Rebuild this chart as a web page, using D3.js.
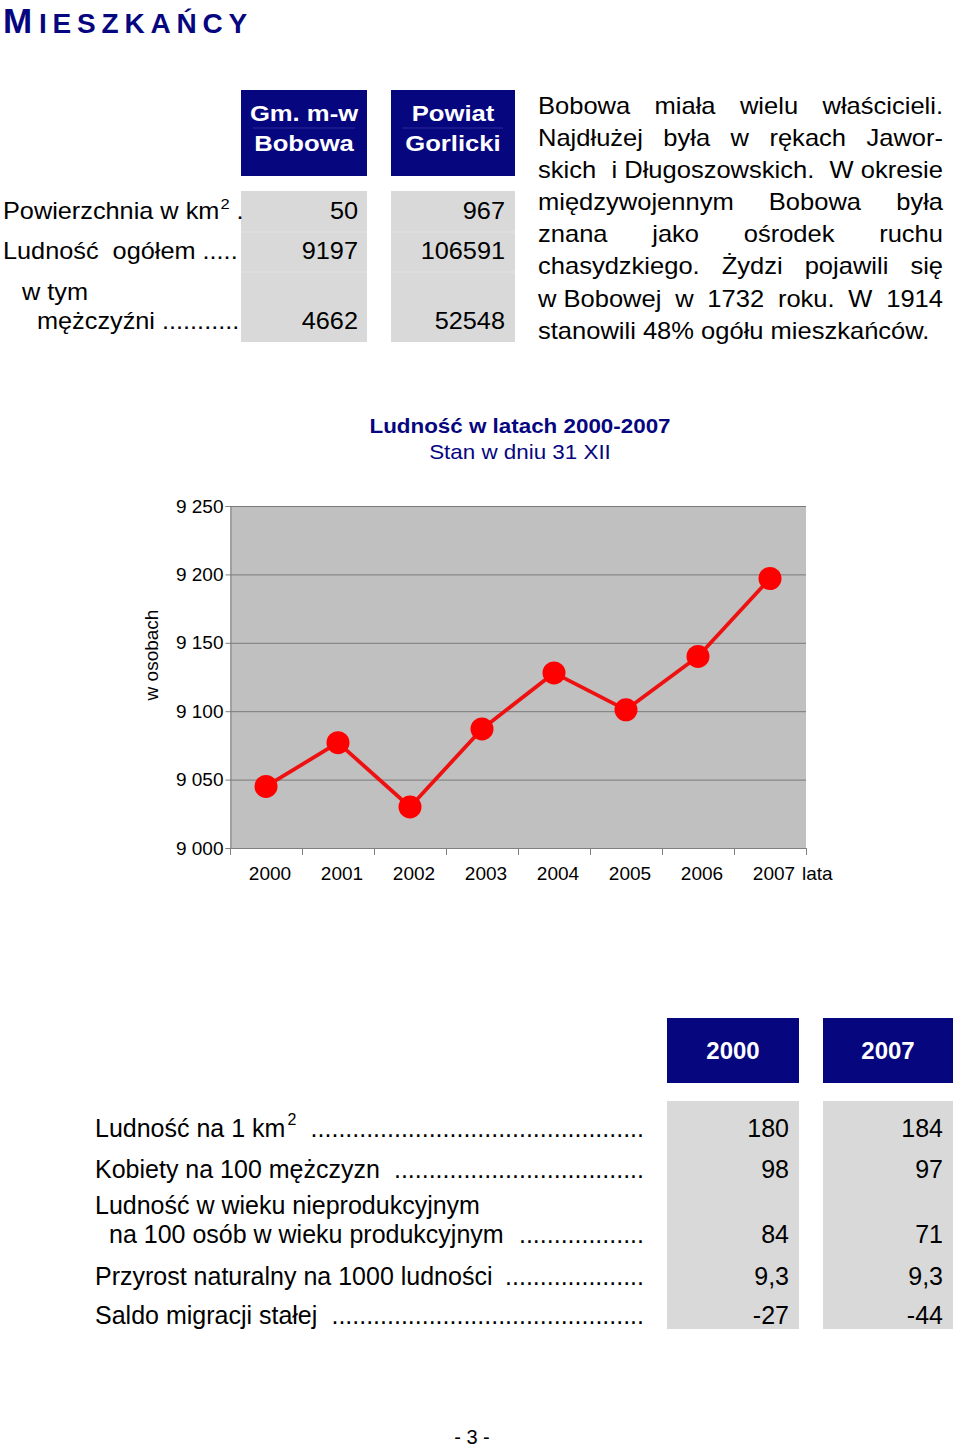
<!DOCTYPE html>
<html><head><meta charset="utf-8">
<script src="https://cdn.jsdelivr.net/npm/d3@7"></script>
<style>
body{margin:0;background:#fff}
svg{display:block}
text{font-family:"Liberation Sans",Arial,sans-serif;white-space:pre}
</style>
</head><body>
<script>
// ---------- DATA ----------
const years = ["2000","2001","2002","2003","2004","2005","2006","2007"];
const population = [9045, 9077, 9030, 9087, 9128, 9101, 9140, 9197];
const yTicks = [9000, 9050, 9100, 9150, 9200, 9250];

const topHeaders = [["Gm. m-w","Bobowa"],["Powiat","Gorlicki"]];
const topBobowa = ["50","9197","4662"];
const topPowiat = ["967","106591","52548"];

const paragraphLines = [
  ["Bobowa","miała","wielu","właścicieli."],
  ["Najdłużej","była","w","rękach","Jawor-"],
  ["skich","i Długoszowskich.","W okresie"],
  ["międzywojennym","Bobowa","była"],
  ["znana","jako","ośrodek","ruchu"],
  ["chasydzkiego.","Żydzi","pojawili","się"],
  ["w Bobowej","w","1732","roku.","W","1914"],
  ["stanowili 48% ogółu mieszkańców."]
];

const bottomHeaders = ["2000","2007"];
const bottomLabels = ["Ludność na 1 km", "Kobiety na 100 mężczyzn", "Ludność w wieku nieprodukcyjnym|na 100 osób w wieku produkcyjnym", "Przyrost naturalny na 1000 ludności", "Saldo migracji stałej"];
const bottom2000 = ["180","98","84","9,3","-27"];
const bottom2007 = ["184","97","71","9,3","-44"];

// ---------- HELPERS ----------
const NAVY = "#06067f";
const GRAY = "#d9d9d9";
const svg = d3.select("body").append("svg").attr("width",960).attr("height",1449);

function txt(parent, x, y, s, o = {}) {
  return parent.append("text")
    .attr("transform", `translate(${x},${y}) scale(${o.sx || 1},1)`)
    .attr("font-size", o.size || 24)
    .attr("fill", o.fill || "#000")
    .attr("font-weight", o.weight || "normal")
    .attr("text-anchor", o.anchor || "start")
    .text(s);
}
function tw(t) { return t.node().getComputedTextLength(); }
function leader(parent, x0, x1, y, size, sx) {
  const probe = txt(parent, 0, -100, ".", {size, sx});
  const dw = tw(probe) * (sx || 1); probe.remove();
  const n = Math.floor((x1 - x0) / dw);
  return txt(parent, x1, y, ".".repeat(n), {size, sx, anchor: "end"});
}

// ---------- TITLE ----------
const title = svg.append("text").attr("x", 3).attr("y", 33).attr("fill", NAVY)
  .attr("font-weight", "bold").attr("letter-spacing", 5.8);
title.append("tspan").attr("font-size", 35).text("M");
title.append("tspan").attr("font-size", 28).attr("dx", 1).text("IESZKAŃCY");

// ---------- TOP TABLE ----------
const topG = svg.append("g");
const topCols = [{x: 241, w: 126}, {x: 391, w: 124}];
topCols.forEach((c, i) => {
  topG.append("rect").attr("x", c.x).attr("y", 90).attr("width", c.w).attr("height", 86).attr("fill", NAVY);
  topG.append("line").attr("x1", c.x + 12).attr("x2", c.x + c.w - 12).attr("y1", 128).attr("y2", 128)
    .attr("stroke", "#2a2a96").attr("stroke-width", 1);
  txt(topG, c.x + c.w / 2, 121, topHeaders[i][0], {size: 22.5, sx: 1.14, weight: "bold", fill: "#fff", anchor: "middle"});
  txt(topG, c.x + c.w / 2, 151, topHeaders[i][1], {size: 22.5, sx: 1.14, weight: "bold", fill: "#fff", anchor: "middle"});
  topG.append("rect").attr("x", c.x).attr("y", 191).attr("width", c.w).attr("height", 151).attr("fill", GRAY);
  [232, 272].forEach(yy => topG.append("line").attr("x1", c.x).attr("x2", c.x + c.w).attr("y1", yy).attr("y2", yy)
    .attr("stroke", "#e3e3e3").attr("stroke-width", 1));
});
const TS = 23, TSX = 1.1;
const r1 = txt(topG, 3, 219, "Powierzchnia w km", {size: TS, sx: TSX});
r1.append("tspan").attr("font-size", 15).attr("dy", -10).attr("dx", 1).text("2");
r1.append("tspan").attr("dy", 10).text(" .");
txt(topG, 3, 259, "Ludność  ogółem .....", {size: TS, sx: TSX});
txt(topG, 22, 300, "w tym", {size: TS, sx: TSX});
txt(topG, 37, 329, "mężczyźni ...........", {size: TS, sx: TSX});
const topRowsY = [219, 259, 329];
topBobowa.forEach((v, i) => txt(topG, 358, topRowsY[i], v, {size: TS, sx: TSX, anchor: "end"}));
topPowiat.forEach((v, i) => txt(topG, 505, topRowsY[i], v, {size: TS, sx: TSX, anchor: "end"}));

// ---------- PARAGRAPH (justified) ----------
const PSX = 1.11, PS = 23, PX0 = 538, PX1 = 943;
const para = svg.append("g").attr("transform", `translate(${PX0},0) scale(${PSX},1)`);
const W = (PX1 - PX0) / PSX;
paragraphLines.forEach((words, li) => {
  const yy = 114 + li * 32.1;
  const nodes = words.map(wd => para.append("text").attr("y", yy).attr("font-size", PS).text(wd));
  const widths = nodes.map(n => n.node().getComputedTextLength());
  const sum = d3.sum(widths);
  const last = li === paragraphLines.length - 1;
  const gap = (last || words.length < 2) ? PS * 0.278 : (W - sum) / (words.length - 1);
  let xx = 0;
  nodes.forEach((n, i) => { n.attr("x", xx); xx += widths[i] + gap; });
});

// ---------- CHART ----------
const chart = svg.append("g");
const x = d3.scaleBand().domain(years).range([230, 806]).padding(0);
const y = d3.scaleLinear().domain([9000, 9250]).range([848, 506]);
const fmt = d3.formatLocale({decimal: ",", thousands: " ", grouping: [3], currency: ["", ""]}).format(",d");

txt(chart, 520, 433, "Ludność w latach 2000-2007", {size: 20, sx: 1.12, weight: "bold", fill: NAVY, anchor: "middle"});
txt(chart, 520, 459, "Stan w dniu 31 XII", {size: 20, sx: 1.12, fill: NAVY, anchor: "middle"});

chart.append("rect").attr("x", x.range()[0]).attr("y", y(9250)).attr("width", x.range()[1] - x.range()[0])
  .attr("height", y(9000) - y(9250)).attr("fill", "#c0c0c0");
chart.selectAll("line.grid").data(yTicks.slice(1)).join("line").attr("class", "grid")
  .attr("x1", x.range()[0]).attr("x2", x.range()[1]).attr("y1", d => y(d) + 0.5).attr("y2", d => y(d) + 0.5)
  .attr("stroke", "#7a7a7a").attr("stroke-width", 1);

// y axis
const yAxis = chart.append("g").attr("transform", `translate(${x.range()[0] + 0.5},0)`)
  .call(d3.axisLeft(y).tickValues(yTicks).tickFormat(fmt).tickSize(5).tickPadding(2));
yAxis.select(".domain").attr("stroke", "#808080");
yAxis.selectAll(".tick line").attr("stroke", "#808080");
yAxis.selectAll(".tick text").attr("font-size", 19).attr("font-family", '"Liberation Sans",Arial,sans-serif').attr("fill", "#000");

// x axis (ticks at band boundaries)
const bounds = years.map(d => x(d)).concat([x.range()[1]]);
chart.append("line").attr("x1", x.range()[0]).attr("x2", x.range()[1]).attr("y1", y(9000) + 0.5).attr("y2", y(9000) + 0.5)
  .attr("stroke", "#808080");
chart.selectAll("line.xt").data(bounds).join("line").attr("class", "xt")
  .attr("x1", d => d + 0.5).attr("x2", d => d + 0.5).attr("y1", y(9000)).attr("y2", y(9000) + 7).attr("stroke", "#808080");
years.forEach(d => txt(chart, x(d) + x.bandwidth() / 2 + 4, 880, d, {size: 19, anchor: "middle"}));
txt(chart, x(years[years.length - 1]) + x.bandwidth() / 2 + 32, 880, "lata", {size: 19});
txt(chart, 0, 0, "w osobach", {size: 19, anchor: "middle"})
  .attr("transform", "translate(158,655) rotate(-90)");

const line = d3.line().x((d, i) => x(years[i]) + x.bandwidth() / 2).y(d => y(d));
chart.append("path").datum(population).attr("d", line).attr("fill", "none")
  .attr("stroke", "#ee1111").attr("stroke-width", 3.8).attr("stroke-linejoin", "round");
chart.selectAll("circle.pt").data(population).join("circle").attr("class", "pt")
  .attr("cx", (d, i) => x(years[i]) + x.bandwidth() / 2).attr("cy", d => y(d)).attr("r", 11.5)
  .attr("fill", "#ff0000");

// ---------- BOTTOM TABLE ----------
const bot = svg.append("g");
const botCols = [{x: 667, w: 132, vx: 789}, {x: 823, w: 130, vx: 943}];
botCols.forEach((c, i) => {
  bot.append("rect").attr("x", c.x).attr("y", 1018).attr("width", c.w).attr("height", 65).attr("fill", NAVY);
  txt(bot, c.x + c.w / 2, 1059, bottomHeaders[i], {size: 24, weight: "bold", fill: "#fff", anchor: "middle"});
  bot.append("rect").attr("x", c.x).attr("y", 1101).attr("width", c.w).attr("height", 228).attr("fill", GRAY);
});
const BS = 25;
const rowY = [1137, 1178, 1243, 1285, 1324];
bottomLabels.forEach((lab, i) => {
  let t, startX;
  if (lab.includes("|")) {
    const [a, b] = lab.split("|");
    txt(bot, 95, 1214, a, {size: BS});
    t = txt(bot, 109, rowY[i], b, {size: BS});
    startX = 109 + tw(t);
  } else {
    t = txt(bot, 95, rowY[i], lab, {size: BS});
    if (i === 0) t.append("tspan").attr("font-size", 16).attr("dy", -12).attr("dx", 2).text("2");
    startX = 95 + tw(t);
  }
  leader(bot, startX + 12, 644, rowY[i], BS);
  txt(bot, botCols[0].vx, rowY[i], bottom2000[i], {size: BS, anchor: "end"});
  txt(bot, botCols[1].vx, rowY[i], bottom2007[i], {size: BS, anchor: "end"});
});

// ---------- FOOTER ----------
txt(svg, 472, 1444, "- 3 -", {size: 20, anchor: "middle"});
</script>
</body></html>
